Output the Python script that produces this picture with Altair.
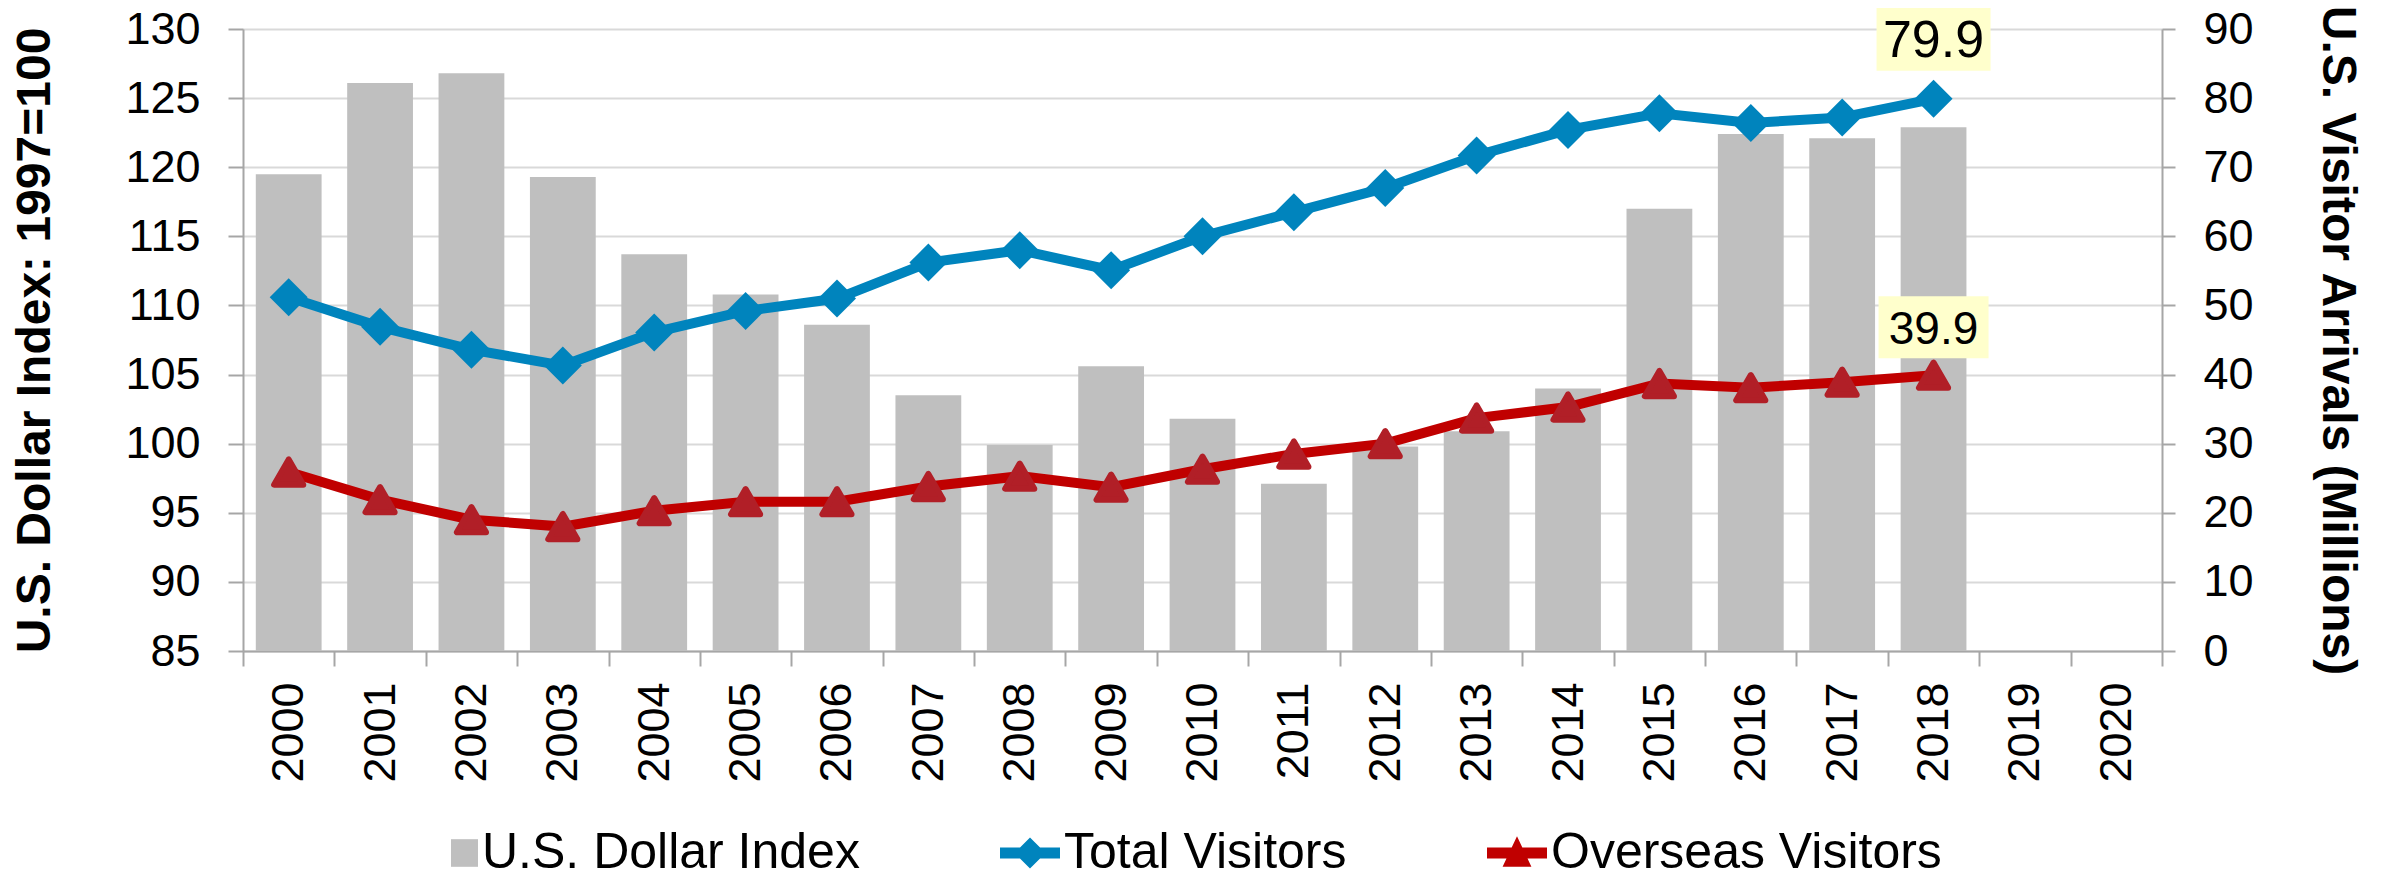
import altair as alt
import pandas as pd

# ---------------- data ----------------
years = [str(y) for y in range(2000, 2021)]
data_years = [str(y) for y in range(2000, 2019)]
dollar_index = [119.5, 126.1, 126.8, 119.3, 113.7, 110.8, 108.6, 103.5, 99.9, 105.6,
                101.8, 97.1, 99.8, 100.9, 104.0, 117.0, 122.4, 122.1, 122.9]
total_visitors = [51.2, 46.9, 43.6, 41.3, 46.1, 49.2, 51.0, 56.2, 58.0, 55.1,
                  60.0, 63.5, 67.0, 71.7, 75.4, 77.8, 76.4, 77.2, 79.9]
overseas_visitors = [25.9, 21.9, 19.0, 18.0, 20.3, 21.6, 21.6, 23.8, 25.3, 23.7,
                     26.3, 28.5, 30.0, 33.7, 35.3, 38.7, 38.1, 38.9, 39.9]
series_names = ["U.S. Dollar Index", "Total Visitors", "Overseas Visitors"]
callout_year = ["2018"]
callout_total = [79.9]
callout_overseas = [39.9]

left_ticks = list(range(85, 131, 5))
right_ticks = list(range(0, 91, 10))

# ---------------- styles ----------------
FONT = "Liberation Sans"
GRAY = "#BFBFBF"
BLUE = "#0084BD"
RED_LINE = "#C00000"
RED_MARK = "#B11F27"
AXIS_GRAY = "#A6A6A6"
BOX = "#FFFFCC"

df = pd.DataFrame({
    "year": data_years,
    "dollar": dollar_index,
    "total": total_visitors,
    "overseas": overseas_visitors,
})
df_total_call = pd.DataFrame({"year": callout_year, "v": callout_total,
                              "t": [f"{v:.1f}" for v in callout_total]})
df_over_call = pd.DataFrame({"year": callout_year, "v": callout_overseas,
                             "t": [f"{v:.1f}" for v in callout_overseas]})
legend_df = pd.DataFrame({"series": series_names})

x_scale = alt.Scale(domain=years, paddingInner=0, paddingOuter=0)
x_axis = alt.Axis(title=None, labelAngle=-90, tickBand="extent", tickSize=15,
                  tickWidth=2, tickColor=AXIS_GRAY, domainColor=AXIS_GRAY,
                  domainWidth=2, labelPadding=16, labelFontSize=45, labelFont=FONT,
                  labelColor="black", grid=False)


def xe():
    return alt.X("year:N", scale=x_scale, axis=x_axis)


left_scale = alt.Scale(domain=[85, 130], nice=False, zero=False)
right_scale = alt.Scale(domain=[0, 90], nice=False, zero=True)

bars = alt.Chart(df).mark_bar(color=GRAY, width=alt.RelativeBandSize(band=0.72)).encode(
    x=xe(),
    y=alt.Y("dollar:Q", scale=left_scale,
            axis=alt.Axis(title="U.S. Dollar Index: 1997=100", orient="left",
                          values=left_ticks, grid=True, gridColor="#D9D9D9", gridWidth=2,
                          tickSize=15, tickWidth=2, tickColor=AXIS_GRAY,
                          domainColor=AXIS_GRAY, domainWidth=2,
                          labelFontSize=45, labelFont=FONT, labelColor="black",
                          labelPadding=28, titleFontSize=48, titleFont=FONT,
                          titleFontWeight="bold", titleColor="black",
                          titleAngle=-90, titleX=-208, titleY=311,
                          titleBaseline="middle", titleAlign="center")),
    y2=alt.datum(85),
)

right_axis = alt.Axis(title="U.S. Visitor Arrivals (Millions)", orient="right",
                      values=right_ticks, grid=False, tickSize=13, tickWidth=2,
                      tickColor=AXIS_GRAY, domainColor=AXIS_GRAY, domainWidth=2,
                      labelFontSize=45, labelFont=FONT, labelColor="black",
                      labelPadding=28, titleFontSize=48, titleFont=FONT,
                      titleFontWeight="bold", titleColor="black",
                      titleAngle=90, titleX=174, titleY=311,
                      titleBaseline="middle", titleAlign="center")


def ye(field):
    return alt.Y(field, scale=right_scale, axis=right_axis)


total_line = alt.Chart(df).mark_line(color=BLUE, strokeWidth=10).encode(
    x=xe(), y=ye("total:Q"))
total_pts = alt.Chart(df).mark_point(shape="diamond", filled=True, size=1444,
                                     color=BLUE, opacity=1).encode(
    x=xe(), y=ye("total:Q"))
over_line = alt.Chart(df).mark_line(color=RED_LINE, strokeWidth=10).encode(
    x=xe(), y=ye("overseas:Q"))
over_pts = alt.Chart(df).mark_point(shape="triangle-up", filled=True, size=850,
                                    color=RED_MARK, stroke=RED_MARK, strokeWidth=6,
                                    strokeJoin="round", opacity=1).encode(
    x=xe(), y=ye("overseas:Q"))

total_box = alt.Chart(df_total_call).mark_point(
    shape="M-1,-0.614H1V0.614H-1Z", filled=True, size=12996, color=BOX,
    opacity=1, yOffset=-63).encode(x=xe(), y=ye("v:Q"))
total_txt = alt.Chart(df_total_call).mark_text(
    font=FONT, fontSize=52, color="black", baseline="alphabetic", align="center",
    dy=-42).encode(x=xe(), y=ye("v:Q"), text="t:N")
over_box = alt.Chart(df_over_call).mark_point(
    shape="M-1,-0.5636H1V0.5636H-1Z", filled=True, size=12100, color=BOX,
    opacity=1, yOffset=-48).encode(x=xe(), y=ye("v:Q"))
over_txt = alt.Chart(df_over_call).mark_text(
    font=FONT, fontSize=46, color="black", baseline="alphabetic", align="center",
    dy=-31).encode(x=xe(), y=ye("v:Q"), text="t:N")

right_layer = alt.layer(total_line, over_line, total_pts, over_pts,
                        over_box, over_txt, total_box, total_txt)

# legend symbols: square, line+diamond, line+triangle
SQ = "M0.1,-0.46H1V0.46H0.1Z"
DIA = "M-1,-0.18H1V0.18H-1Z M-0.52,0L0,-0.52L0.52,0L0,0.52Z"
TRI = "M-1,-0.18H1V0.18H-1Z M0,-0.56L0.48,0.46L-0.48,0.46Z"

leg_kwargs = dict(title=None, orient="none", legendX=175, legendY=794,
                  direction="horizontal", columns=3, columnPadding=140,
                  symbolSize=3600, symbolStrokeWidth=0, symbolOpacity=1,
                  labelFontSize=50, labelFont=FONT, labelColor="black",
                  labelOffset=4, labelLimit=2000, padding=0)

legend_layer = alt.Chart(legend_df).mark_point(filled=True, opacity=0).encode(
    color=alt.Color("series:N", scale=alt.Scale(domain=series_names,
                                                range=[GRAY, BLUE, RED_LINE]),
                    legend=alt.Legend(**leg_kwargs)),
    shape=alt.Shape("series:N", scale=alt.Scale(domain=series_names,
                                                range=[SQ, DIA, TRI]),
                    legend=alt.Legend(**leg_kwargs)),
)

chart = alt.layer(bars, right_layer, legend_layer).resolve_scale(
    y="independent"
).properties(
    width=1919, height=622,
    autosize=alt.AutoSizeParams(type="none"),
    padding={"left": 235, "top": 21, "right": 214, "bottom": 219},
).configure_view(stroke=None).configure(background="white")

chart.save("out.html", embed_options={"renderer": "svg", "actions": False})
